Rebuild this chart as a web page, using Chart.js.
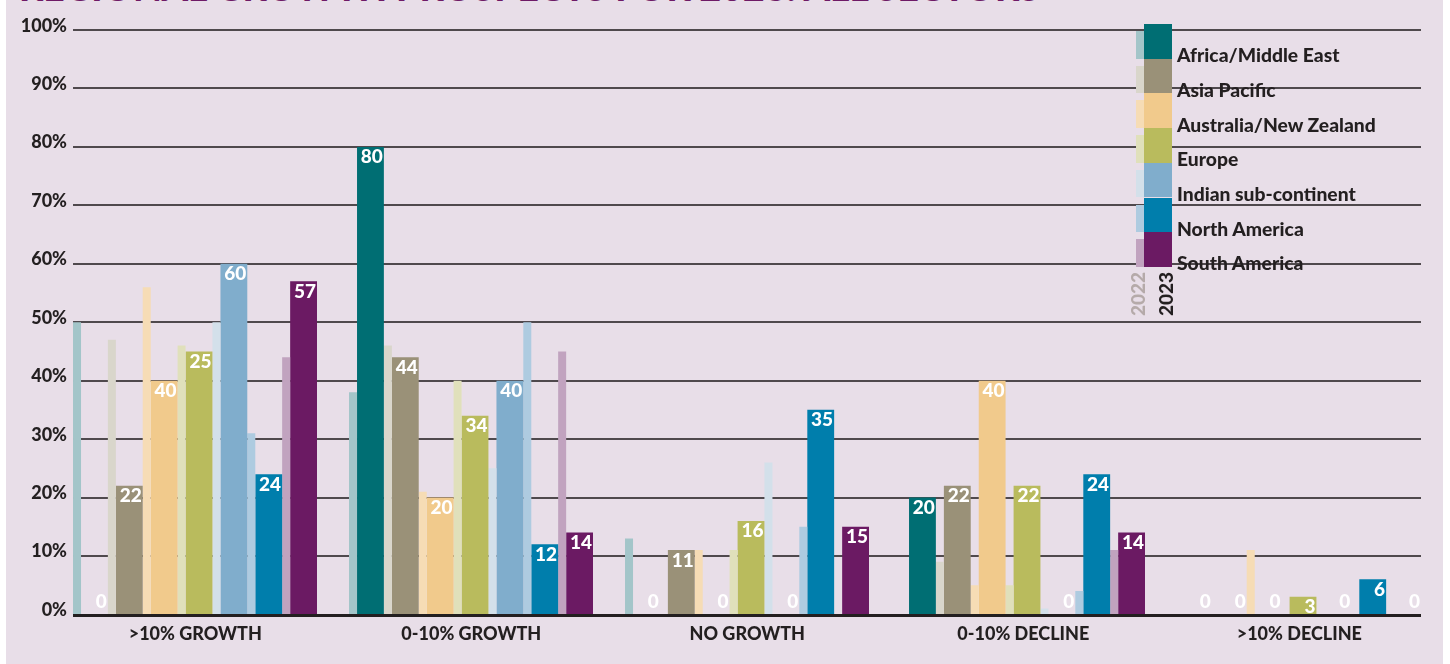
<!DOCTYPE html>
<html>
<head>
<meta charset="utf-8">
<script src="https://cdn.jsdelivr.net/npm/chart.js@4.4.0/dist/chart.umd.min.js"></script>
<style>
  html, body { margin: 0; padding: 0; background: #fff; }
  body { width: 1450px; height: 664px; position: relative; overflow: hidden; font-family: Lato, sans-serif; }
  #panel { position: absolute; left: 6px; top: 0; width: 1437px; height: 664px; background: #e8dee8; }
  #title { position: absolute; left: 19px; top: -32px; font-size: 37.4px; font-weight: 900; color: #6e1a66; white-space: nowrap; line-height: 1; }
  #chart { position: absolute; left: 0; top: 0; }
  .sw { position: absolute; }
  .lab { position: absolute; left: 1177px; font-size: 19.3px; line-height: 20px; font-weight: 900; color: #231f20; white-space: nowrap; }
  .yr { position: absolute; font-size: 19px; line-height: 19px; font-weight: 900; transform-origin: left top; transform: rotate(-90deg); white-space: nowrap; }
</style>
</head>
<body>
<div id="panel"></div>
<div id="title">REGIONAL GROWTH PROSPECTS FOR 2023: ALL SECTORS</div>
<canvas id="chart" width="1450" height="664"></canvas>
<div id="legend"></div>
<script>
'use strict';

let categories = ['>10% GROWTH', '0-10% GROWTH', 'NO GROWTH', '0-10% DECLINE', '>10% DECLINE'];
let regions = ['Africa/Middle East', 'Asia Pacific', 'Australia/New Zealand', 'Europe', 'Indian sub-continent', 'North America', 'South America'];
let colors2023 = ['#006e73', '#9a9178', '#f1ca8c', '#b9bb5d', '#80adcc', '#007eac', '#6b1a63'];
let colors2022 = ['#a3c5c9', '#d9d6cb', '#f6dcb5', '#e0e0bb', '#d3e0ea', '#aecbe0', '#c1a3bf'];
let yTicks = [0, 10, 20, 30, 40, 50, 60, 70, 80, 90, 100];

// one value per category, in percent
let africa2022 = [50, 38, 13, 0, 0];
let africa2023 = [0, 80, 0, 20, 0];
let asia2022 = [47, 46, 0, 9, 0];
let asia2023 = [22, 44, 11, 22, 0];
let australia2022 = [56, 21, 11, 5, 11];
let australia2023 = [40, 20, 0, 40, 0];
let europe2022 = [46, 40, 11, 5, 0];
let europe2023 = [45, 34, 16, 22, 3];
let indian2022 = [50, 25, 26, 1, 0];
let indian2023 = [60, 40, 0, 0, 0];
let northAm2022 = [31, 50, 15, 4, 0];
let northAm2023 = [24, 12, 35, 24, 6];
let southAm2022 = [44, 45, 0, 11, 0];
let southAm2023 = [57, 14, 15, 14, 0];

// numbers printed on the 2023 bars (the Europe one reads 25 in the original)
let europe2023Printed = [25, 34, 16, 22, 3];

let series2022 = [africa2022, asia2022, australia2022, europe2022, indian2022, northAm2022, southAm2022];
let series2023 = [africa2023, asia2023, australia2023, europe2023, indian2023, northAm2023, southAm2023];
let printed2023 = [africa2023, asia2023, australia2023, europe2023Printed, indian2023, northAm2023, southAm2023];

let datasets = [];
for (let i = 0; i < regions.length; i++) {
  datasets.push({
    label: regions[i] + ' 2022',
    data: series2022[i],
    backgroundColor: colors2022[i],
    barPercentage: 0.46,
    categoryPercentage: 0.884,
    year: 2022
  });
  datasets.push({
    label: regions[i] + ' 2023',
    data: series2023[i],
    backgroundColor: colors2023[i],
    barPercentage: 1.54,
    categoryPercentage: 0.884,
    year: 2023,
    printed: printed2023[i]
  });
}

let fontName = 'Lato';
let boldFont = { family: fontName, weight: '900', size: 18 };
let ink = '#231f20';

function barEnds(chart) {
  let first = chart.getDatasetMeta(0).data[0];
  let last = chart.getDatasetMeta(datasets.length - 1).data[categories.length - 1];
  return [first.x - first.width / 2, last.x + last.width / 2];
}

let decor = {
  id: 'decor',
  beforeDatasetsDraw(chart) {
    let ctx = chart.ctx;
    let y = chart.scales.y;
    let ends = barEnds(chart);
    ctx.save();
    ctx.strokeStyle = '#4f494d';
    ctx.lineWidth = 2;
    for (let i = 1; i < yTicks.length; i++) {
      let py = Math.round(y.getPixelForValue(yTicks[i]));
      ctx.beginPath();
      ctx.moveTo(ends[0], py);
      ctx.lineTo(ends[1], py);
      ctx.stroke();
    }
    // y tick labels, right aligned just left of the lines
    ctx.fillStyle = ink;
    ctx.font = '900 18px ' + fontName;
    ctx.textAlign = 'right';
    ctx.textBaseline = 'alphabetic';
    y.ticks.forEach(function (t) {
      ctx.fillText(t.value + '%', 67, y.getPixelForValue(t.value) + 1.5);
    });
    ctx.restore();
  },
  afterDatasetsDraw(chart) {
    let ctx = chart.ctx;
    let y = chart.scales.y;
    let base = y.getPixelForValue(0);
    ctx.save();
    ctx.fillStyle = '#ffffff';
    ctx.font = '900 19px ' + fontName;
    ctx.textAlign = 'right';
    ctx.textBaseline = 'alphabetic';
    datasets.forEach(function (ds, di) {
      if (ds.year !== 2023) return;
      let meta = chart.getDatasetMeta(di);
      meta.data.forEach(function (bar, j) {
        let ty = ds.data[j] === 0 ? base - 6 : bar.y + 16.5;
        ctx.fillText(String(ds.printed[j]), bar.x + bar.width / 2 - 1, ty);
      });
    });
    // baseline
    let ends = barEnds(chart);
    ctx.strokeStyle = ink;
    ctx.lineWidth = 3;
    ctx.beginPath();
    ctx.moveTo(ends[0], Math.round(base) + 1.5);
    ctx.lineTo(ends[1], Math.round(base) + 1.5);
    ctx.stroke();
    ctx.restore();
  }
};

let ctx = document.getElementById('chart').getContext('2d');
let myChart = new Chart(ctx, {
  type: 'bar',
  data: { labels: categories, datasets: datasets },
  options: {
    responsive: false,
    animation: false,
    layout: { padding: { left: 0, right: 17.7, top: 30, bottom: 10 } },
    plugins: { legend: { display: false }, tooltip: { enabled: false } },
    scales: {
      x: {
        grid: { display: false, drawTicks: false },
        border: { display: false },
        ticks: { color: ink, font: boldFont, padding: 9, labelOffset: 5, maxRotation: 0, autoSkip: false }
      },
      y: {
        min: 0,
        max: 100,
        grid: { display: false, drawTicks: false },
        border: { display: false },
        ticks: { display: false, stepSize: 10 },
        afterFit: function (s) { s.width = 52.3; }
      }
    }
  },
  plugins: [decor]
});

// legend: thin 2022 swatch + wide 2023 swatch per region
let legendEl = document.getElementById('legend');
for (let i = 0; i < regions.length; i++) {
  let top = 24 + i * 34.7;
  let bottom = top + 34.7;
  let s23 = document.createElement('div');
  s23.className = 'sw';
  s23.style.cssText = 'left:1144px;width:28px;top:' + top + 'px;height:34.7px;background:' + colors2023[i];
  let s22 = document.createElement('div');
  s22.className = 'sw';
  s22.style.cssText = 'left:1136px;width:8px;top:' + (top + 7) + 'px;height:27.7px;background:' + colors2022[i];
  let lab = document.createElement('div');
  lab.className = 'lab';
  lab.style.top = (bottom - 13.5) + 'px';
  lab.textContent = regions[i];
  legendEl.appendChild(s22);
  legendEl.appendChild(s23);
  legendEl.appendChild(lab);
}
let y22 = document.createElement('div');
y22.className = 'yr';
y22.style.cssText = 'left:1128px;top:316px;color:#b5aaa9';
y22.textContent = '2022';
let y23 = document.createElement('div');
y23.className = 'yr';
y23.style.cssText = 'left:1156px;top:316px;color:' + ink;
y23.textContent = '2023';
legendEl.appendChild(y22);
legendEl.appendChild(y23);
</script>
</body>
</html>
